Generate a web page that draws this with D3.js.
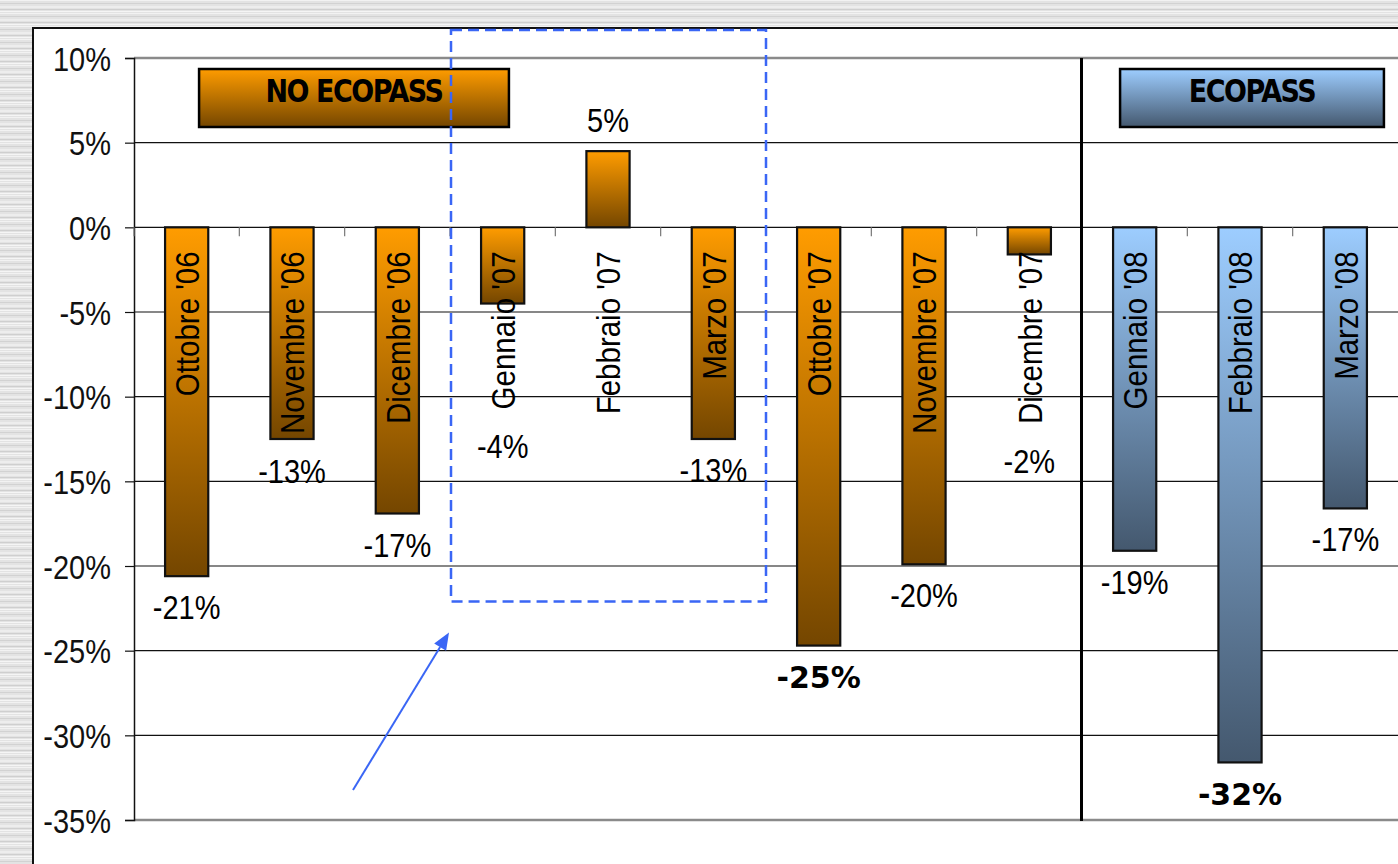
<!DOCTYPE html>
<html>
<head>
<meta charset="utf-8">
<script src="https://cdn.jsdelivr.net/npm/d3@7/dist/d3.min.js"></script>
<style>
  html, body { margin: 0; padding: 0; background: #e4e4e4; }
  svg { display: block; }
</style>
</head>
<body>
<svg id="chart" width="1398" height="864"></svg>
<script>
// ---------- DATA ----------
const categories = ["Ottobre '06", "Novembre '06", "Dicembre '06", "Gennaio '07", "Febbraio '07", "Marzo '07",
                    "Ottobre '07", "Novembre '07", "Dicembre '07", "Gennaio '08", "Febbraio '08", "Marzo '08"];
const values = [-20.6, -12.5, -16.9, -4.5, 4.5, -12.5, -24.7, -19.9, -1.6, -19.1, -31.6, -16.6];
const valueLabels = ["-21%", "-13%", "-17%", "-4%", "5%", "-13%", "-25%", "-20%", "-2%", "-19%", "-32%", "-17%"];
const emphasised = [false, false, false, false, false, false, true, false, false, false, true, false];
const groups = ["NO ECOPASS", "NO ECOPASS", "NO ECOPASS", "NO ECOPASS", "NO ECOPASS", "NO ECOPASS",
                "NO ECOPASS", "NO ECOPASS", "NO ECOPASS", "ECOPASS", "ECOPASS", "ECOPASS"];
const groupNames = ["NO ECOPASS", "ECOPASS"];
const yTicks = [10, 5, 0, -5, -10, -15, -20, -25, -30, -35];
const highlighted = ["Gennaio '07", "Febbraio '07", "Marzo '07"];

// ---------- LAYOUT ----------
const svg = d3.select("#chart");
const W = 1398, H = 864;
const plot = { left: 134, right: 1398, top: 58, bottom: 820 };

const x = d3.scaleBand().domain(categories).range([plot.left, plot.right]).paddingInner(0.59).paddingOuter(0.295);
const y = d3.scaleLinear().domain([-35, 10]).range([plot.bottom, plot.top]);

const defs = svg.append("defs");
// background texture
const pat = defs.append("pattern").attr("id", "tex").attr("patternUnits", "userSpaceOnUse")
  .attr("width", 60).attr("height", 13);
pat.append("rect").attr("width", 60).attr("height", 13).attr("fill", "#e3e3e3");
[[0, 1, "#f2f2f2"], [3, 1, "#d2d2d2"], [6, 2, "#ededed"], [9, 1, "#cfcfcf"], [11, 1, "#f5f5f5"]].forEach(([yy, h, c]) =>
  pat.append("rect").attr("x", 0).attr("y", yy).attr("width", 60).attr("height", h).attr("fill", c));

function grad(id, top, bottom) {
  const g = defs.append("linearGradient").attr("id", id).attr("x1", 0).attr("y1", 0).attr("x2", 0).attr("y2", 1);
  g.append("stop").attr("offset", "0%").attr("stop-color", top);
  g.append("stop").attr("offset", "100%").attr("stop-color", bottom);
}
grad("gOrange", "#ff9c00", "#744600");
grad("gBlue", "#9dcdff", "#44586e");
const gradFor = g => g === "ECOPASS" ? "url(#gBlue)" : "url(#gOrange)";

// background + white panel
svg.append("rect").attr("width", W).attr("height", H).attr("fill", "url(#tex)");
svg.append("rect").attr("x", 33).attr("y", 28).attr("width", W + 20).attr("height", H).attr("fill", "#fff")
  .attr("stroke", "#111").attr("stroke-width", 2);

const font = "'Liberation Sans', Arial, sans-serif";
const STRETCH = 1.15;

// gridlines
svg.append("g").selectAll("line").data(yTicks).join("line")
  .attr("x1", plot.left).attr("x2", plot.right)
  .attr("y1", d => y(d)).attr("y2", d => y(d))
  .attr("stroke", d => (d === 10 || d === -35) ? "#8a8a8a" : "#111")
  .attr("stroke-width", d => (d === 10 || d === -35) ? 2.5 : 1.2);

// y axis
const yAxis = d3.axisLeft(y).tickValues(yTicks).tickSize(9).tickPadding(0).tickFormat(d => d + "%");
const yg = svg.append("g").attr("transform", `translate(${plot.left},0)`).call(yAxis);
yg.select(".domain").attr("stroke", "#111").attr("stroke-width", 1.5);
yg.selectAll(".tick line").attr("stroke", "#111").attr("stroke-width", 1.2);
yg.selectAll(".tick text").remove();
yg.selectAll(".tick").append("text")
  .attr("text-anchor", "end").attr("font-family", font).attr("font-size", 29).attr("fill", "#111")
  .attr("transform", `translate(-23,0) scale(1,${STRETCH})`).attr("dy", "0.36em")
  .text(d => d + "%");

// x axis ticks at band boundaries on the zero line
const bounds = categories.map(c => x(c) - x.step() * x.paddingInner() / 2);
svg.append("g").selectAll("line").data(bounds).join("line")
  .attr("x1", d => d).attr("x2", d => d).attr("y1", y(0)).attr("y2", y(0) + 9)
  .attr("stroke", "#777").attr("stroke-width", 1.2);

// group separator
const sepX = x(categories[groups.indexOf("ECOPASS")]) - x.step() * x.paddingInner() / 2 - 0.5;
svg.append("line").attr("x1", sepX).attr("x2", sepX).attr("y1", plot.top).attr("y2", plot.bottom + 1)
  .attr("stroke", "#000").attr("stroke-width", 3);

// group header boxes
const headerSpan = {
  "NO ECOPASS": [categories[0], categories[2]],
  "ECOPASS": [categories[9], categories[11]]
};
const headerG = svg.append("g");
groupNames.forEach(g => {
  const [c0, c1] = headerSpan[g];
  const x0 = g === "ECOPASS" ? x(c0) + 7 : x(c0) + 34;
  const x1 = g === "ECOPASS" ? x(c1) + x.bandwidth() + 17 : x(c1) + x.bandwidth() + 90;
  headerG.append("rect").attr("x", x0).attr("y", 69).attr("width", x1 - x0).attr("height", 58)
    .attr("fill", gradFor(g)).attr("stroke", "#000").attr("stroke-width", 2.5);
  headerG.append("text")
    .attr("transform", `translate(${(x0 + x1) / 2},91) scale(1,1.15)`)
    .attr("text-anchor", "middle")
    .attr("font-family", "'DejaVu Sans', Verdana, sans-serif").attr("font-weight", "bold")
    .attr("font-size", 27).attr("letter-spacing", -1.5).attr("fill", "#000").attr("dy", "0.36em")
    .text(g);
});

// bars
svg.append("g").selectAll("rect").data(categories).join("rect")
  .attr("x", c => x(c)).attr("width", x.bandwidth())
  .attr("y", (c, i) => y(Math.max(0, values[i])))
  .attr("height", (c, i) => Math.abs(y(values[i]) - y(0)))
  .attr("fill", (c, i) => gradFor(groups[i]))
  .attr("stroke", "#111").attr("stroke-width", 2.2);

// category labels rotated inside bars
const catG = svg.append("g");
const catTexts = catG.selectAll("text").data(categories).join("text")
  .attr("transform", c => `translate(${x(c) + x.bandwidth() / 2},${y(0) + 24}) rotate(-90) scale(1,${STRETCH})`)
  .attr("text-anchor", "end").attr("dy", "0.36em")
  .attr("font-family", font).attr("font-size", 29.5).attr("fill", "#000")
  .text(c => c);

// value labels
const textEnd = [];
catTexts.each(function(c, i) { textEnd[i] = y(0) + 24 + this.getComputedTextLength(); });
svg.append("g").selectAll("text").data(categories).join("text")
  .attr("transform", (c, i) => {
    const cx = x(c) + x.bandwidth() / 2;
    let cy;
    if (values[i] >= 0) cy = y(values[i]) - 31;
    else cy = Math.max(y(values[i]) + 31, textEnd[i] + 37);
    return emphasised[i] ? `translate(${cx},${cy + 1})` : `translate(${cx},${cy}) scale(1,${STRETCH})`;
  })
  .attr("text-anchor", "middle").attr("dy", "0.36em")
  .attr("font-family", (c, i) => emphasised[i] ? "'DejaVu Sans', Verdana, sans-serif" : font)
  .attr("font-weight", (c, i) => emphasised[i] ? "bold" : "normal")
  .attr("font-size", (c, i) => emphasised[i] ? 30 : 29)
  .attr("fill", "#000")
  .text((c, i) => valueLabels[i]);

// highlight dashed box around Gennaio-Marzo '07
const hx0 = x(highlighted[0]) - x.step() * x.paddingInner() / 2 + 1;
const hx1 = x(highlighted[2]) + x.bandwidth() + x.step() * x.paddingInner() / 2;
const hyBottom = y(-22.1);
svg.append("rect").attr("x", hx0).attr("y", 30).attr("width", hx1 - hx0).attr("height", hyBottom - 30)
  .attr("fill", "none").attr("stroke", "#3a66f5").attr("stroke-width", 2.5).attr("stroke-dasharray", "11,6");

// arrow pointing at the box
const ax0 = 353, ay0 = 790, ax1 = hx0 - 2, ay1 = hyBottom + 31;
const ang = Math.atan2(ay1 - ay0, ax1 - ax0);
const headLen = 17, headHalf = 7;
const bx = ax1 - headLen * Math.cos(ang), by = ay1 - headLen * Math.sin(ang);
svg.append("line").attr("x1", ax0).attr("y1", ay0).attr("x2", bx).attr("y2", by)
  .attr("stroke", "#3a66f5").attr("stroke-width", 2);
svg.append("path")
  .attr("d", d3.line()([
    [ax1, ay1],
    [bx + headHalf * Math.sin(ang), by - headHalf * Math.cos(ang)],
    [bx - headHalf * Math.sin(ang), by + headHalf * Math.cos(ang)]
  ]) + "Z")
  .attr("fill", "#3a66f5");
</script>
</body>
</html>
